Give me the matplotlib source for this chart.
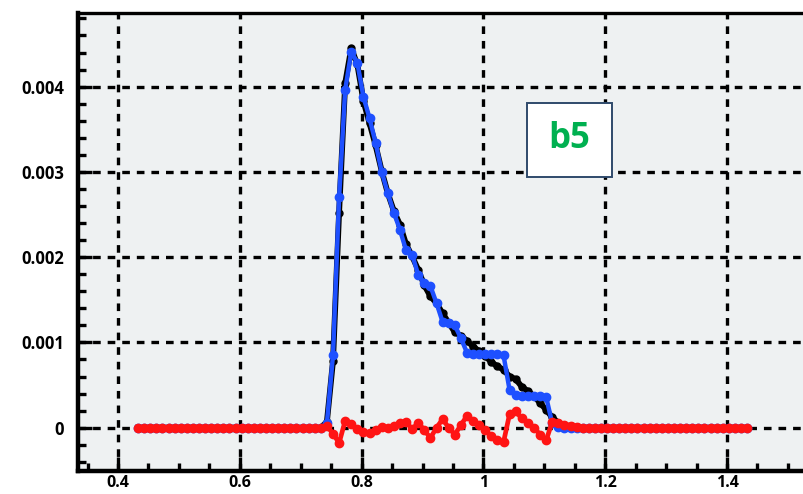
import numpy as np
import matplotlib
matplotlib.use("Agg")
import matplotlib.pyplot as plt
from matplotlib.patches import Rectangle

# ---------------- data (values in units of 1e-3) ----------------
x_start = 0.433
x_step = 0.01
n_points = 101

blue_vals = ([0.0] * 30 +
             [0.0, 0.05, 0.85, 2.70, 3.96, 4.41, 4.28, 3.88, 3.63, 3.34,
              3.00, 2.75, 2.52, 2.32, 2.08, 2.03, 1.79, 1.70, 1.66, 1.46,
              1.24, 1.23, 1.20, 1.05, 0.88, 0.87, 0.87, 0.87, 0.87, 0.87,
              0.85, 0.44, 0.38, 0.37, 0.37, 0.37, 0.37, 0.36, 0.05, 0.01] +
             [0.0] * 31)

black_vals = ([0.0] * 30 +
              [0.0, 0.07, 0.78, 2.52, 4.04, 4.45, 4.26, 3.83, 3.57, 3.31,
               3.01, 2.75, 2.54, 2.38, 2.15, 2.01, 1.85, 1.67, 1.54, 1.46,
               1.34, 1.23, 1.12, 1.08, 1.02, 0.95, 0.90, 0.84, 0.77, 0.72,
               0.68, 0.60, 0.57, 0.48, 0.43, 0.37, 0.29, 0.21, 0.12, 0.06,
               0.03, 0.02, 0.01] +
              [0.0] * 28)

red_vals = ([0.0] * 30 +
            [0.0, 0.02, -0.07, -0.18, 0.08, 0.04, -0.02, -0.05, -0.06, -0.03,
             0.01, 0.0, 0.02, 0.06, 0.07, -0.02, 0.06, -0.03, -0.12, 0.0,
             0.10, 0.0, -0.08, 0.03, 0.14, 0.08, 0.03, -0.03, -0.10, -0.15,
             -0.17, 0.16, 0.19, 0.11, 0.06, 0.0, -0.08, -0.15, 0.07, 0.05,
             0.03, 0.02, 0.01] +
            [0.0] * 28)

x_ticks = [0.4, 0.6, 0.8, 1.0, 1.2, 1.4]
x_tick_labels = ["0.4", "0.6", "0.8", "1", "1.2", "1.4"]
y_ticks = [0.0, 0.001, 0.002, 0.003, 0.004]
y_tick_labels = ["0", "0.001", "0.002", "0.003", "0.004"]
label_text = "b5"

# ---------------- plotting ----------------
plt.rcParams['font.family'] = ['Open Sans', 'DejaVu Sans']
plt.rcParams['lines.scale_dashes'] = False

x = x_start + x_step * np.arange(n_points)
scale = 1e-3
blue = np.array(blue_vals) * scale
black = np.array(black_vals) * scale
red = np.array(red_vals) * scale

W, H = 804, 494
fig = plt.figure(figsize=(W / 100, H / 100), dpi=100)
ax_left, ax_right, ax_top, ax_bottom = 78, 804, 13.3, 471
ax = fig.add_axes([ax_left / W, (H - ax_bottom) / H,
                   (ax_right - ax_left) / W, (ax_bottom - ax_top) / H])
ax.set_facecolor('#EEF1F2')

ax.set_xlim(0.3343, 1.5264)
ax.set_ylim(-0.000508, 0.00486)

ax.set_xticks(x_ticks)
ax.set_xticklabels(x_tick_labels)
ax.set_yticks(y_ticks)
ax.set_yticklabels(y_tick_labels)
ax.set_xticks(np.arange(0.35, 1.52, 0.05), minor=True)
ax.set_yticks(np.arange(-0.0004, 0.00485, 0.0002), minor=True)

ax.grid(True, which='major', color='black', linewidth=2.4,
        linestyle=(0, (5.5, 5.0)))
ax.set_axisbelow(True)

for side in ['left', 'bottom']:
    ax.spines[side].set_linewidth(3.2)
ax.spines['top'].set_linewidth(2.4)
ax.spines['right'].set_visible(False)

ax.tick_params(axis='both', which='major', direction='in', length=10,
               width=2.4, labelsize=12, colors='black')
ax.tick_params(axis='both', which='minor', direction='in', length=6,
               width=2.4)
ax.tick_params(axis='y', which='both', right=False)
ax.tick_params(axis='x', which='both', top=False)
ax.tick_params(axis='y', which='major', pad=10)
ax.tick_params(axis='x', which='major', pad=3, labelsize=11.5)
for lbl in ax.get_xticklabels() + ax.get_yticklabels():
    lbl.set_fontweight('bold')

ax.plot(x, black, color='black', linewidth=4.2, marker='o', markersize=5,
        zorder=3)
ax.plot(x, blue, color='#1E50FF', linewidth=3.2, marker='o', markersize=6,
        zorder=4)
ax.plot(x, red, color='#FF1414', linewidth=3.4, marker='o', markersize=6,
        zorder=5)

# label box
bx0, bx1, by0, by1 = 527, 612, 103, 177
ax.add_patch(Rectangle(((bx0 - ax_left) / (ax_right - ax_left),
                        (ax_bottom - by1) / (ax_bottom - ax_top)),
                       (bx1 - bx0) / (ax_right - ax_left),
                       (by1 - by0) / (ax_bottom - ax_top),
                       transform=ax.transAxes, facecolor='white',
                       edgecolor='#2F4A6B', linewidth=1.4, zorder=6))
ax.text(((bx0 + bx1) / 2 - ax_left) / (ax_right - ax_left),
        (ax_bottom - 139) / (ax_bottom - ax_top), label_text,
        transform=ax.transAxes, ha='center', va='center',
        fontsize=25, fontweight='bold', color='#00B050', zorder=7)

fig.savefig('out.png', dpi=100)
